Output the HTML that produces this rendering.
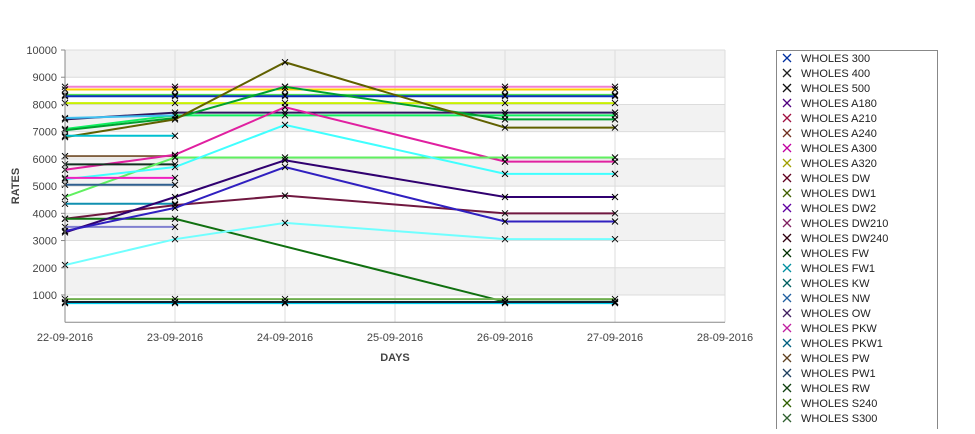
<!DOCTYPE html>
<html><head><meta charset="utf-8"><style>
body{margin:0;background:#fff;font-family:"Liberation Sans",sans-serif}
svg text{font-family:"Liberation Sans",sans-serif}
</style></head><body>
<svg id="c" width="975" height="429">
<g id="grid"></g><g id="series"></g><g id="axes"></g><g id="legend"></g>
</svg>
<script>
const dates=["22-09-2016","23-09-2016","24-09-2016","25-09-2016","26-09-2016","27-09-2016","28-09-2016"];
const yTicks=[1000,2000,3000,4000,5000,6000,7000,8000,9000,10000];
const colors=["#f080d0","#ffd000","#50e050","#1030c0","#c8f000","#301860","#10f060","#00a030","#606000","#40c0f0","#00c0d0","#806040","#e020a0","#103020","#60f060","#40ffff","#f020c0","#306090","#1090b0","#701840","#107010","#8080d0","#300070","#3020c0","#70ffff","#70b050","#00d0f0","#102030"];
const dayIdx=[0,1,2,4,5];
const values=[
[8650,8650,8650,8650,8650],[8550,8550,8550,8550,8550],[8350,8350,8350,8350,8350],[8300,8300,8300,8300,8300],
[8050,8050,8050,8050,8050],[7450,7700,7700,7700,7700],[7100,7600,7600,7600,7600],[7050,7500,8650,7450,7450],
[6800,7450,9550,7150,7150],[7500,7600,null,null,null],[6850,6850,null,null,null],[6100,6100,null,null,null],
[5600,6150,7900,5900,5900],[5800,5800,null,null,null],[4600,6050,6050,6050,6050],[5250,5700,7250,5450,5450],
[5300,5300,null,null,null],[5050,5050,null,null,null],[4350,4350,null,null,null],[3800,4300,4650,4000,4000],
[3800,3800,null,750,750],[3500,3500,null,null,null],[3300,4600,5950,4600,4600],[3350,4200,5700,3700,3700],
[2100,3050,3650,3050,3050],[850,850,850,850,850],[700,700,700,700,700],[740,740,740,740,740]];
const legendLabels=["WHOLES 300","WHOLES 400","WHOLES 500","WHOLES A180","WHOLES A210","WHOLES A240","WHOLES A300","WHOLES A320","WHOLES DW","WHOLES DW1","WHOLES DW2","WHOLES DW210","WHOLES DW240","WHOLES FW","WHOLES FW1","WHOLES KW","WHOLES NW","WHOLES OW","WHOLES PKW","WHOLES PKW1","WHOLES PW","WHOLES PW1","WHOLES RW","WHOLES S240","WHOLES S300"];
const legendColors=["#0030a0","#202020","#101010","#500080","#a01040","#703020","#c000a0","#a0a000","#600020","#406000","#6000a0","#802060","#300010","#003000","#0090a0","#006060","#2060a0","#402060","#c020a0","#006080","#604020","#204060","#104010","#306000","#306030"];
const NS="http://www.w3.org/2000/svg";
const X0=65,X1=725,Y0=322.2,PER=0.02722;
const xs=i=>X0+i*(X1-X0)/6, ys=v=>Y0-v*PER;
function el(t,a,p){const e=document.createElementNS(NS,t);for(const k in a)e.setAttribute(k,a[k]);p.appendChild(e);return e;}
const grid=document.getElementById('grid'),ser=document.getElementById('series'),ax=document.getElementById('axes'),lg=document.getElementById('legend');
for(let v=10000;v>0;v-=1000){
 const r=el('rect',{x:X0,y:ys(v),width:X1-X0,height:1000*PER,fill:(v/1000)%2===0?'#f2f2f2':'#fff'},grid);
 
 
}
yTicks.forEach(v=>{el('line',{x1:X0,x2:X1,y1:ys(v),y2:ys(v),stroke:'#dcdcdc'},grid);
 const t=el('text',{x:X0-8,y:ys(v)+4,'text-anchor':'end','font-size':11,fill:'#444'},ax);t.textContent=v;
 
 
 el('line',{x1:X0-4,x2:X0,y1:ys(v),y2:ys(v),stroke:'#888'},ax);});
dates.forEach((d,i)=>{el('line',{x1:xs(i),x2:xs(i),y1:50,y2:Y0,stroke:'#dcdcdc'},grid);
 const t=el('text',{x:xs(i),y:341,'text-anchor':'middle','font-size':11,fill:'#444'},ax);t.textContent=d;
 
 });
el('line',{x1:X0,x2:X0,y1:50,y2:Y0,stroke:'#888'},ax);
el('line',{x1:X0,x2:X1,y1:Y0,y2:Y0,stroke:'#888'},ax);
let t=el('text',{x:395,y:361,'text-anchor':'middle','font-size':11,'font-weight':'bold',fill:'#444'},ax);t.textContent='DAYS';

t=el('text',{x:19,y:186,'text-anchor':'middle','font-size':11,'font-weight':'bold',fill:'#444',transform:'rotate(-90 19 186)'},ax);t.textContent='RATES';

values.forEach((vals,s)=>{
 const pts=[];vals.forEach((v,i)=>{if(v!==null)pts.push([xs(dayIdx[i]),ys(v)]);});
 const pl=el('polyline',{points:pts.map(p=>p.join(',')).join(' '),fill:'none',stroke:colors[s],'stroke-width':2},ser);
 
 
 pts.forEach(p=>{const m=el('path',{d:`M${p[0]-3},${p[1]-3}L${p[0]+3},${p[1]+3}M${p[0]-3},${p[1]+3}L${p[0]+3},${p[1]-3}`,stroke:'#000','stroke-width':1},ser);
  
  });
});
const box=el('rect',{x:776.5,y:50.5,width:161,height:400,fill:'#fff',stroke:'#888'},lg);

legendLabels.forEach((l,i)=>{const y=58+i*15;
 const g=el('g',{},lg);
 
 
 el('path',{d:`M783,${y-4}L791,${y+4}M783,${y+4}L791,${y-4}`,stroke:legendColors[i],'stroke-width':1.3},g);
 const tx=el('text',{x:801,y:y+4,'font-size':11,fill:'#222'},g);tx.textContent=l;});
</script>
</body></html>
